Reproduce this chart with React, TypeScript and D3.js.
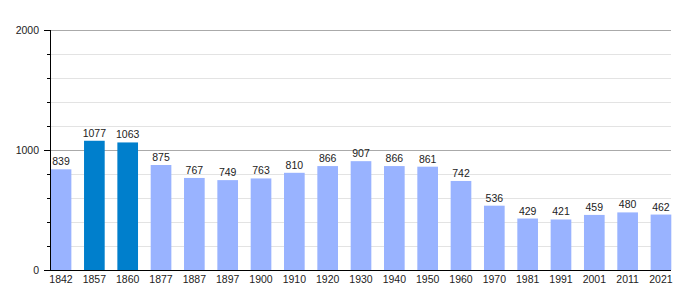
import React from "react";
import * as d3 from "d3";

const years = ["1842","1857","1860","1877","1887","1897","1900","1910","1920","1930","1940","1950","1960","1970","1981","1991","2001","2011","2021"];
const population = [839,1077,1063,875,767,749,763,810,866,907,866,861,742,536,429,421,459,480,462];
const highlighted = ["1857","1860"];
const majorTicks = [0, 1000, 2000];
const minorTicks = [200,400,600,800,1200,1400,1600,1800];

const W = 700, H = 300;
const left = 50, right = 671, top = 30, bottom = 270;

export default function App() {
  const x = d3.scaleBand<string>().domain(years).range([50.7, 671.3]).paddingInner(0.38).paddingOuter(0);
  const y = d3.scaleLinear().domain([0, 2000]).range([bottom, top]);
  const font = "'Liberation Sans', Arial, sans-serif";
  return (
    <svg width={W} height={H} style={{ position: "absolute", left: 0, top: 0 }} fontFamily={font}>
      <rect width={W} height={H} fill="#fff" />
      {minorTicks.map(t => (
        <g key={"m" + t}>
          <line x1={left} x2={right} y1={y(t) + 0.5} y2={y(t) + 0.5} stroke="#e3e3e3" />
          <line x1={left - 3} x2={left} y1={y(t) + 0.5} y2={y(t) + 0.5} stroke="#000" />
        </g>
      ))}
      {majorTicks.map(t => (
        <g key={"M" + t}>
          {t > 0 && <line x1={left} x2={right} y1={y(t) + 0.5} y2={y(t) + 0.5} stroke="#aaa" />}
          <line x1={left - 6} x2={left} y1={y(t) + 0.5} y2={y(t) + 0.5} stroke="#000" />
          <text x={39} y={y(t) + 4} textAnchor="end" fontSize={10.5} fill="#222">{t}</text>
        </g>
      ))}
      {years.map((yr, i) => (
        <g key={yr}>
          <rect x={x(yr)} y={y(population[i])} width={x.bandwidth()} height={bottom - y(population[i])}
            fill={highlighted.includes(yr) ? "#007fcc" : "#99b3ff"} />
          <text x={(x(yr) as number) + x.bandwidth() / 2} y={y(population[i]) - 4} textAnchor="middle" fontSize={10.5} fill="#222">{population[i]}</text>
          <text x={(x(yr) as number) + x.bandwidth() / 2} y={282.5} textAnchor="middle" fontSize={10.5} fill="#222">{yr}</text>
        </g>
      ))}
      <line x1={left + 0.5} x2={left + 0.5} y1={top} y2={bottom} stroke="#000" />
      <line x1={left} x2={right} y1={bottom + 0.5} y2={bottom + 0.5} stroke="#000" />
    </svg>
  );
}
